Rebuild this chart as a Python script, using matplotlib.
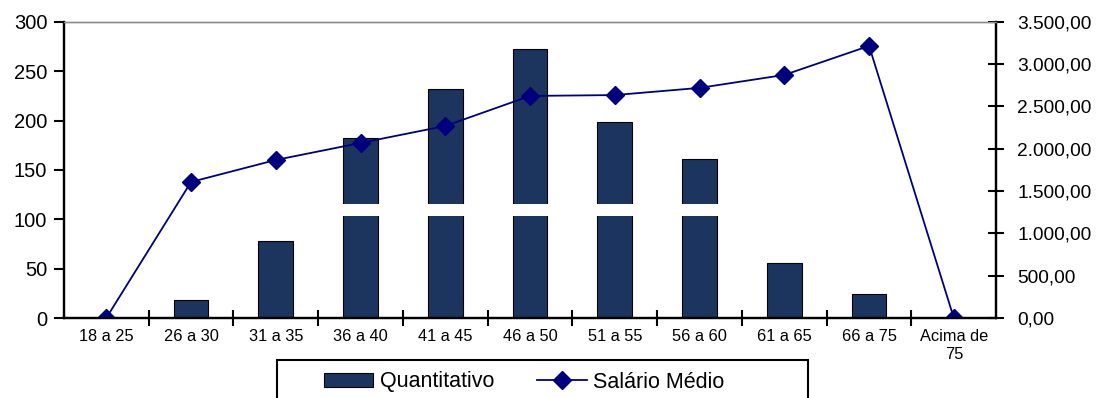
import matplotlib
matplotlib.use('Agg')
import matplotlib.pyplot as plt
from matplotlib.patches import Rectangle
from matplotlib.ticker import FuncFormatter

plt.rcParams['font.family'] = ['Liberation Sans', 'DejaVu Sans']

faixas = ['18 a 25', '26 a 30', '31 a 35', '36 a 40', '41 a 45', '46 a 50',
          '51 a 55', '56 a 60', '61 a 65', '66 a 75', 'Acima de\n75']
quantitativo = [0, 18, 78, 182, 232, 273, 199, 161, 56, 24, 0]
salario_medio = [0, 1608, 1868, 2069, 2270, 2625, 2635, 2720, 2873, 3216, 0]

bar_color = '#1c355e'
line_color = '#00007f'

fig = plt.figure(figsize=(11.02, 3.98), dpi=100)
ax1 = fig.add_axes([0.058, 0.201, 0.846, 0.744])
ax2 = ax1.twinx()

x = list(range(len(faixas)))
b = ax1.bar(x, quantitativo, width=0.41, color=bar_color, edgecolor='black',
            linewidth=0.8, zorder=2, label='Quantitativo')
# faixa branca que corta as barras no original
ax1.axhspan(103, 115.5, xmin=0.004, xmax=0.996, color='white', zorder=3, lw=0)

l, = ax2.plot(x, salario_medio, color=line_color, linewidth=1.3, marker='D',
              markersize=9, label='Salário Médio')

ax1.set_xlim(-0.5, len(faixas) - 0.5)
ax1.set_ylim(0, 300)
ax1.set_yticks(range(0, 301, 50))
ax2.set_ylim(0, 3500)
ax2.set_yticks(range(0, 3501, 500))

def br_fmt(v, pos):
    s = f"{v:,.2f}"
    return s.replace(',', 'X').replace('.', ',').replace('X', '.')

ax2.yaxis.set_major_formatter(FuncFormatter(br_fmt))

ax1.set_xticks([i + 0.5 for i in range(len(faixas) - 1)])
ax1.set_xticklabels([])
ax1.set_xticks(x, minor=True)
ax1.set_xticklabels(faixas, minor=True, fontsize=11.8)
ax1.tick_params(axis='x', which='minor', length=0, pad=8)
ax1.tick_params(axis='x', which='major', direction='inout', length=11, width=1.5)
ax1.tick_params(axis='y', direction='out', length=7, width=1.5, labelsize=14.5, pad=5)
ax2.tick_params(axis='y', direction='inout', length=12, width=1.5, labelsize=13.8, pad=9)

for ax in (ax1, ax2):
    ax.spines['top'].set_color('#8c8c8c')
    ax.spines['top'].set_linewidth(1)
    for s in ('left', 'bottom', 'right'):
        ax.spines[s].set_linewidth(1.6)
        ax.spines[s].set_color('black')

# caixa da legenda (cortada pela borda inferior como no original)
fig.patches.append(Rectangle((277 / 1102, -0.05), 531 / 1102, 0.05 + 38 / 398,
                             transform=fig.transFigure, fill=False,
                             edgecolor='black', linewidth=1.5))
fig.legend([b, l], ['Quantitativo', 'Salário Médio'], loc='center left',
           bbox_to_anchor=(313 / 1102, 1 - 382 / 398), ncol=2, fontsize=15.5,
           frameon=False, borderpad=0,
           handlelength=2.3, handleheight=0.6, handletextpad=0.3,
           columnspacing=2.0)

fig.savefig('out.png', dpi=100)
